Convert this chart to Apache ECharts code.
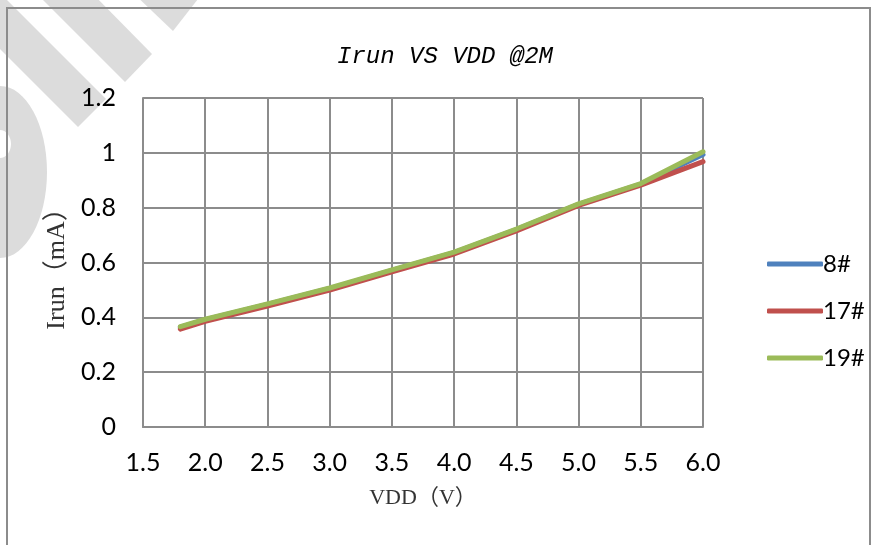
<!DOCTYPE html>
<html>
<head>
<meta charset="utf-8">
<script src="https://cdn.jsdelivr.net/npm/echarts@6/dist/echarts.min.js"></script>
<style>
  html, body { margin: 0; padding: 0; background: #fff; }
  #chart { width: 877px; height: 545px; }
</style>
</head>
<body>
<div id="chart"></div>
<script>
// VDD (V)
const vdd = [1.8, 2.0, 2.5, 3.0, 3.5, 4.0, 4.5, 5.0, 5.5, 6.0];
// Irun (mA) per sample
const irun8 = [0.364, 0.391, 0.447, 0.505, 0.571, 0.636, 0.720, 0.812, 0.886, 0.994];
const irun17 = [0.357, 0.385, 0.441, 0.499, 0.566, 0.631, 0.715, 0.808, 0.882, 0.968];
const irun19 = [0.366, 0.393, 0.449, 0.507, 0.573, 0.638, 0.722, 0.814, 0.888, 1.004];
const seriesNames = ['8#', '17#', '19#'];
const seriesColors = ['#4F81BD', '#C0504D', '#9BBB59'];

const chart = echarts.init(document.getElementById('chart'), null, { renderer: 'canvas' });

const pairs = (ys) => vdd.map((x, i) => [x, ys[i]]);
const gridColor = '#8c8c8c';
const tickFont = 'Lato, "Noto Sans", sans-serif';
const serifFont = '"Liberation Serif", "Noto Sans CJK SC", serif';

// watermark shapes in the top-left corner + outer frame
const wm = '#dcdcdc';
const graphics = [
  { type: 'polygon', z: -10, silent: true, shape: { points: [[130, -10], [205, -10], [173, 31]] }, style: { fill: wm } },
  { type: 'polygon', z: -10, silent: true, shape: { points: [[33, -10], [125, 82], [152, 54], [89, -10]] }, style: { fill: wm } },
  { type: 'polygon', z: -10, silent: true, shape: { points: [[-10, 39], [78, 127], [106, 99], [-3, -10], [-10, -10]] }, style: { fill: wm } },
  { type: 'ellipse', z: -10, silent: true, shape: { cx: 0, cy: 172, rx: 47, ry: 86 }, style: { fill: wm } },
  { type: 'ellipse', z: -9, silent: true, shape: { cx: 0, cy: 144, rx: 11, ry: 14 }, style: { fill: '#fff' } },
  { type: 'rect', z: -5, silent: true, shape: { x: 7, y: 8, width: 863, height: 560 }, style: { fill: 'none', stroke: '#8c8c8c', lineWidth: 2 } }
];

chart.setOption({
  animation: false,
  backgroundColor: '#fff',
  graphic: graphics,
  title: {
    text: 'Irun VS VDD @2M',
    left: 440,
    top: 40,
    textAlign: 'center',
    textStyle: {
      fontFamily: '"Liberation Mono", "DejaVu Sans Mono", monospace',
      fontStyle: 'italic',
      fontWeight: 'normal',
      fontSize: 24,
      color: '#000'
    }
  },
  legend: {
    orient: 'vertical',
    left: 762,
    top: 247,
    itemWidth: 56,
    itemHeight: 5,
    itemGap: 23,
    icon: 'roundRect',
    data: seriesNames,
    textStyle: { fontFamily: tickFont, fontSize: 24, color: '#000', padding: [0, 0, 0, -5] }
  },
  grid: { left: 143, right: 174, top: 98, bottom: 118, containLabel: false },
  xAxis: {
    type: 'value',
    min: 1.5,
    max: 6.0,
    interval: 0.5,
    name: 'VDD（V）',
    nameLocation: 'middle',
    nameGap: 60,
    nameTextStyle: { fontFamily: serifFont, fontSize: 22, color: '#333' },
    axisLine: { show: true, lineStyle: { color: gridColor, width: 2 } },
    axisTick: { show: false },
    splitLine: { show: true, lineStyle: { color: gridColor, width: 2 } },
    axisLabel: {
      margin: 23,
      fontFamily: tickFont,
      fontSize: 25,
      color: '#000',
      formatter: (v) => v.toFixed(1)
    }
  },
  yAxis: {
    type: 'value',
    min: 0,
    max: 1.2,
    interval: 0.2,
    name: 'Irun（mA）',
    nameLocation: 'middle',
    nameGap: 70,
    nameRotate: 90,
    nameTextStyle: { fontFamily: serifFont, fontSize: 26, color: '#333' },
    axisLine: { show: true, lineStyle: { color: gridColor, width: 2 } },
    axisTick: { show: false },
    splitLine: { show: true, lineStyle: { color: gridColor, width: 2 } },
    axisLabel: {
      margin: 27,
      fontFamily: tickFont,
      fontSize: 25,
      color: '#000',
      formatter: (v) => String(Math.round(v * 10) / 10)
    }
  },
  series: [irun8, irun17, irun19].map((ys, i) => ({
    name: seriesNames[i],
    type: 'line',
    data: pairs(ys),
    showSymbol: false,
    symbol: 'none',
    color: seriesColors[i],
    lineStyle: { width: 5, color: seriesColors[i], cap: 'round', join: 'round' },
    z: 2 + i
  }))
});
</script>
</body>
</html>
